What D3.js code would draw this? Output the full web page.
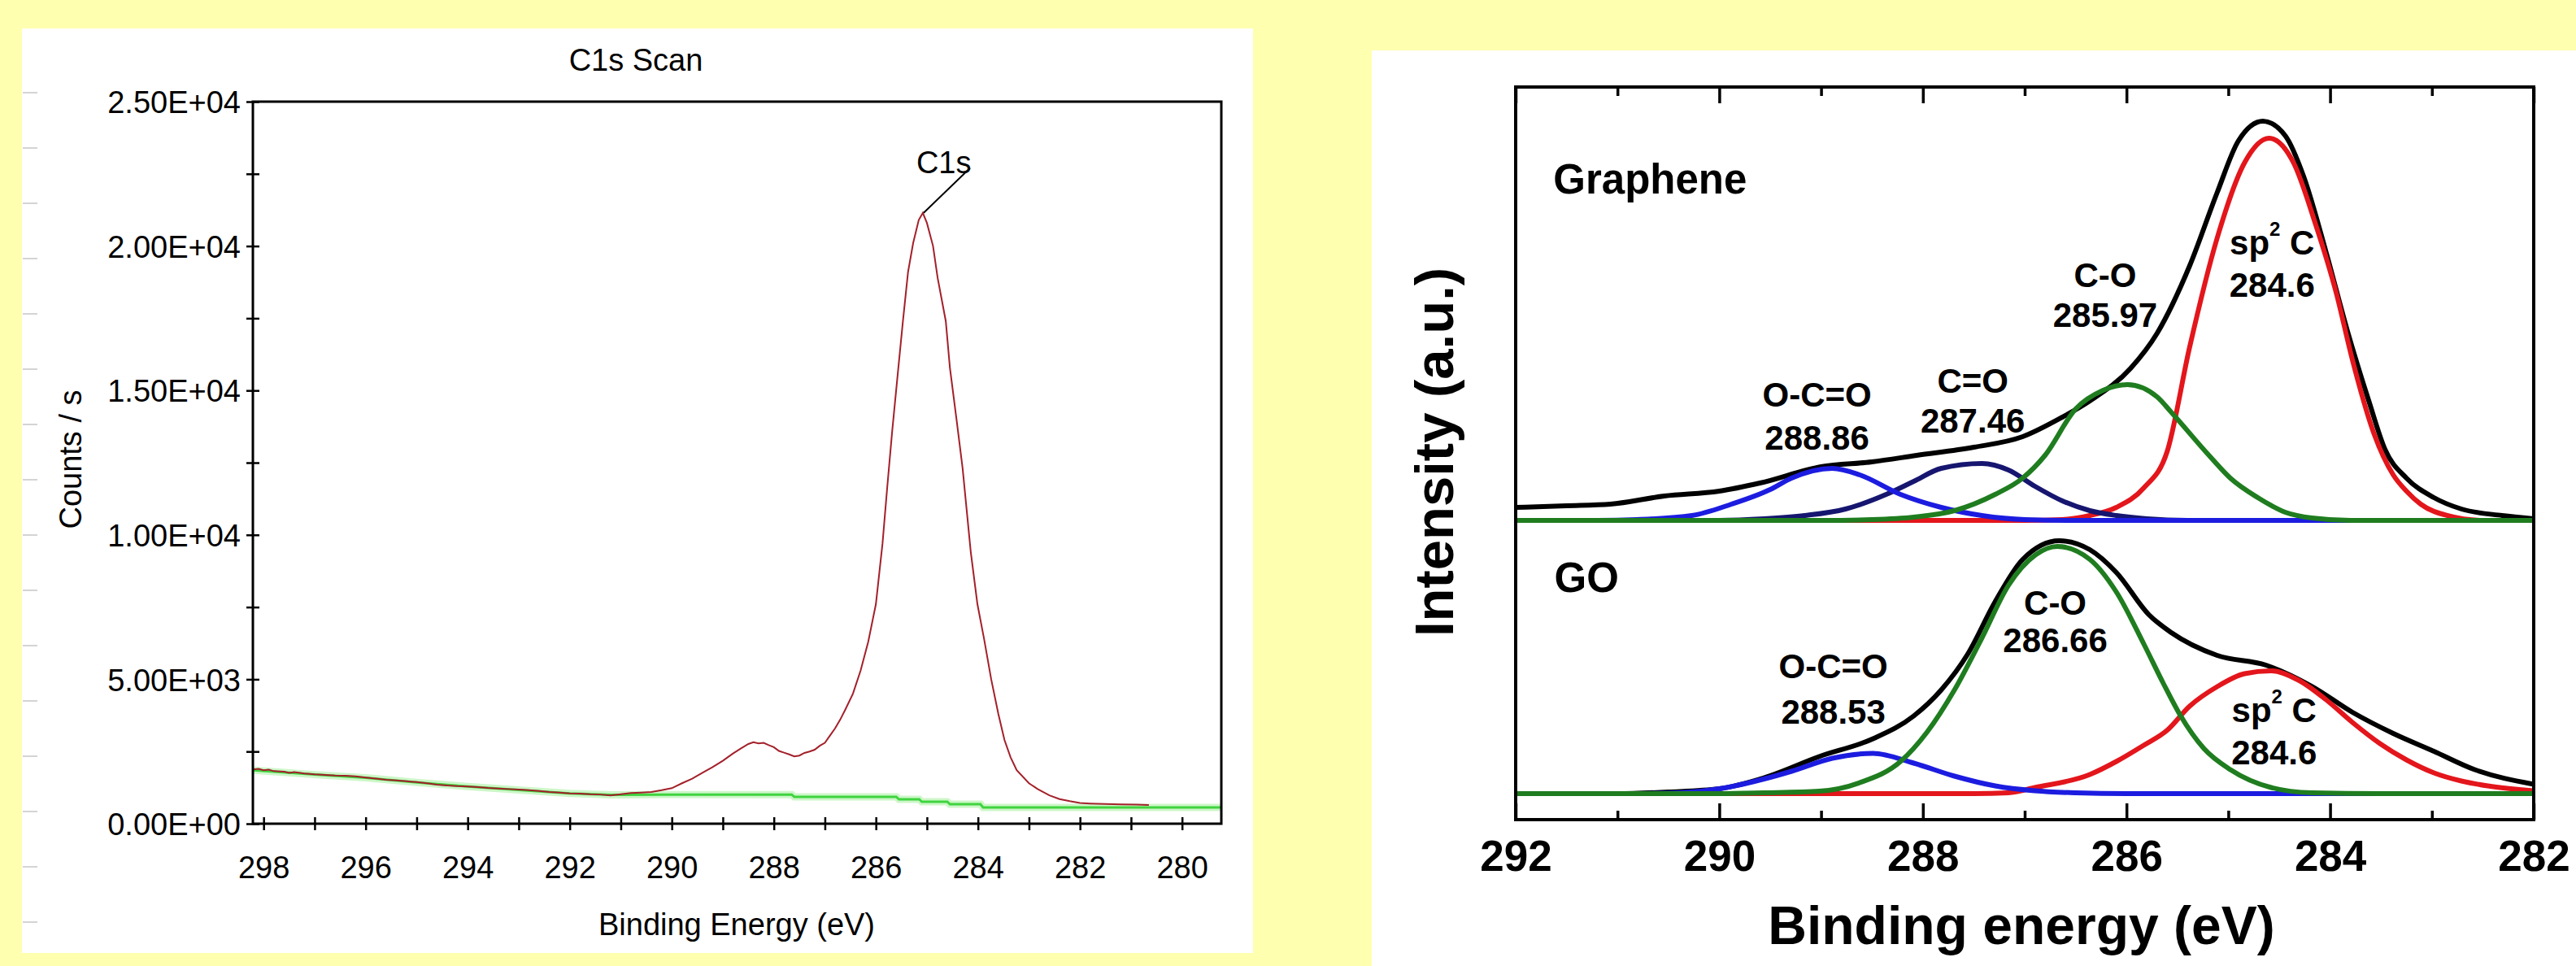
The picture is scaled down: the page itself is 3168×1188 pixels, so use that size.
<!DOCTYPE html>
<html>
<head>
<meta charset="utf-8">
<script src="https://cdn.jsdelivr.net/npm/d3@7.9.0/dist/d3.min.js"></script>
<style>
  html, body { margin: 0; padding: 0; background: #ffffb0; }
  svg { display: block; }
  text { font-family: "Liberation Sans", Arial, Helvetica, sans-serif; fill: #000; }
</style>
</head>
<body>
<svg id="chart" width="3168" height="1188"></svg>
<script>
// ---------- left panel: raw C1s scan ----------
const scanTicksY = d3.range(0, 25001, 2500);   // labelled every 5000
const scanTicksX = d3.range(280, 299, 1);      // labelled every 2 eV
const scanPeak = [285.08, 21150];

// binding energy (eV), counts / s
const scanSpectrum = [
  [298.2,1880],[298.1,1900],[298.0,1850],[297.9,1870],[297.8,1820],[297.6,1800],[297.5,1760],
  [297.4,1790],[297.2,1740],[297.0,1710],[296.8,1690],[296.6,1670],[296.4,1660],[296.2,1640],
  [296.0,1600],[295.8,1560],[295.6,1520],[295.4,1500],[295.2,1470],[295.0,1440],[294.8,1400],
  [294.6,1350],[294.4,1320],[294.2,1300],[294.0,1290],[293.8,1270],[293.6,1240],[293.4,1220],
  [293.2,1200],[293.0,1180],[292.8,1160],[292.6,1130],[292.4,1100],[292.2,1080],[292.0,1050],
  [291.8,1040],[291.6,1020],[291.4,1010],[291.2,980],[291.0,1020],[290.8,1060],[290.6,1080],
  [290.4,1100],[290.2,1160],[290.0,1230],[289.8,1400],[289.6,1560],[289.4,1760],[289.2,1960],
  [289.0,2180],[288.8,2430],[288.65,2600],[288.5,2760],[288.4,2820],[288.3,2780],[288.2,2800],
  [288.1,2720],[288.0,2650],[287.9,2520],[287.8,2460],[287.7,2400],[287.6,2330],[287.5,2360],
  [287.4,2450],[287.3,2500],[287.2,2560],[287.1,2700],[287.0,2800],[286.9,3050],[286.8,3300],
  [286.7,3600],[286.6,3950],[286.45,4500],[286.3,5300],[286.15,6300],[286.0,7600],[285.87,9700],
  [285.78,11600],[285.68,13600],[285.57,15600],[285.47,17400],[285.37,19100],[285.27,20100],
  [285.16,20900],[285.08,21150],[285.0,20800],[284.88,20000],[284.79,18900],[284.63,17400],
  [284.55,15800],[284.42,14000],[284.3,12300],[284.14,9400],[284.01,7600],[283.88,6400],
  [283.74,5000],[283.6,3800],[283.48,2900],[283.36,2300],[283.24,1850],[283.0,1400],[282.83,1200],
  [282.6,980],[282.4,850],[282.2,780],[282.0,720],[281.8,700],[281.5,680],[281.2,670],
  [280.9,660],[280.65,650]
];

const scanBackground = [
  [298.2,1850],[297.0,1700],[296.0,1590],[295.0,1430],[294.0,1290],[293.0,1170],[292.0,1050],
  [291.2,1000],[290.2,1010],[287.65,1010],[287.6,930],[285.6,930],[285.55,845],[285.15,845],
  [285.1,760],[284.6,760],[284.55,675],[283.95,675],[283.9,565],[279.23,565]
];

// ---------- right panel: fitted C1s, graphene vs GO ----------
const fitTicks = d3.range(282, 292.5, 1);   // labelled every 2 eV
const grapheneOffset = 73.6;                // a.u. shift of the upper trace
const goOffset = 6.4;

// binding energy (eV), intensity (a.u.)
const grapheneTotal = [
  [292,3.2],[291.5,3.6],[291.07,4],[290.54,6],[290.0,7.2],[289.6,9.2],[289.0,13.2],[288.5,14.4],
  [288.06,16],[287.5,18],[287.02,20.6],[286.63,25.4],[286.36,29.4],[285.96,37.4],[285.7,46],
  [285.38,62.6],[285.11,80.6],[284.9,93.4],[284.66,98.2],[284.44,94.6],[284.26,84.6],[284.04,66],
  [283.83,46.6],[283.62,29.4],[283.46,17.4],[283.25,10.4],[282.98,5.6],[282.71,2.8],[282.31,1.2],[282,0.4]
];
const grapheneSp2 = [
  [292,0],[287,0],[286.63,0.2],[286.36,1.2],[286.1,3.2],[285.83,8],[285.6,17],[285.38,42.6],
  [285.11,69.4],[284.84,88],[284.6,94],[284.36,88],[284.15,73.4],[283.94,56],[283.78,39.4],
  [283.57,21.4],[283.38,11.2],[283.25,7.2],[283.11,4],[282.85,1.2],[282.5,0],[282,0]
];
const grapheneCO = [
  [292,0],[289,0],[288.5,0.2],[288.09,0.8],[287.69,2.4],[287.29,6.4],[287.02,10.4],[286.8,16],
  [286.5,27.4],[286.23,32],[285.99,33.4],[285.7,30.4],[285.56,26.6],[285.19,16],[284.98,10.4],
  [284.71,5.6],[284.44,2],[284.18,0.6],[283.8,0],[282,0]
];
const grapheneCdO = [
  [292,0],[290,0],[289.56,0.4],[289.16,1.2],[288.76,2.8],[288.36,6.4],[288.09,9.6],[287.82,12.8],
  [287.42,14],[287.16,12.4],[286.9,8.4],[286.63,4.8],[286.36,2.4],[286.1,1.2],[285.8,0.4],[285.4,0],[282,0]
];
const grapheneOCdO = [
  [292,0],[291.2,0],[290.81,0.2],[290.27,1.2],[289.88,4],[289.5,7.6],[289.29,10.4],[288.89,12.8],
  [288.62,11.2],[288.22,6.4],[287.82,3.2],[287.42,1.2],[287,0.2],[286.5,0],[282,0]
];

const goTotal = [
  [292,0],[291,0],[290.5,0.4],[290,1.2],[289.56,3.9],[289.02,9.1],[288.49,13.5],[288.09,19.1],
  [287.82,25.5],[287.56,34.3],[287.29,47.2],[287.02,57.6],[286.66,62.2],[286.36,60],[286.1,54.4],
  [285.78,44],[285.56,39.6],[285.11,34],[284.63,31.6],[284.18,26.4],[283.78,20],[283.38,14.8],
  [282.98,10.4],[282.58,5.9],[282,2.3]
];
const goSp2 = [
  [292,0],[287.5,0],[287.16,0.2],[286.9,1.5],[286.36,4.7],[286.1,7.9],[285.83,11.9],[285.6,15.6],
  [285.38,21.5],[285.11,26.3],[284.84,29.5],[284.58,30.2],[284.31,27.9],[284.04,23.1],[283.78,17.5],
  [283.51,12.3],[283.25,8.3],[282.98,5.1],[282.71,3.1],[282.45,1.9],[282,0.7]
];
const goCO = [
  [292,0],[290,0],[289.56,0.2],[289.02,0.6],[288.62,2.7],[288.22,7.9],[287.96,15.1],[287.69,25.5],
  [287.42,38.3],[287.16,51.2],[286.89,58.8],[286.68,60.8],[286.36,57.6],[286.1,49.6],[285.83,36.8],
  [285.64,27.2],[285.47,19.2],[285.24,11.1],[284.98,5.9],[284.58,1.5],[284.18,0.2],[283.5,0],[282,0]
];
const goOCdO = [
  [292,0],[290.8,0],[290.4,0.2],[290,1.2],[289.5,4],[289.29,5.5],[288.89,8.7],[288.49,9.9],
  [288.09,7.5],[287.69,4.3],[287.29,1.9],[286.9,0.7],[286.5,0.2],[286,0],[282,0]
];

// peak labels: centre (eV), baselines of the two lines (a.u. above the trace baseline)
const grapheneLabels = [
  { name: 'O-C=O', value: '288.86', at: 289.04, h1: 28, h2: 17.4 },
  { name: 'C=O', value: '287.46', at: 287.51, h1: 31.4, h2: 21.6 },
  { name: 'C-O', value: '285.97', at: 286.21, h1: 57.4, h2: 47.6 },
  { name: 'sp2', value: '284.6', at: 284.57, h1: 65.4, h2: 55 }
];
const goLabels = [
  { name: 'O-C=O', value: '288.53', at: 288.88, h1: 28.4, h2: 17.2 },
  { name: 'C-O', value: '286.66', at: 286.70, h1: 44, h2: 34.8 },
  { name: 'sp2', value: '284.6', at: 284.55, h1: 17.6, h2: 7.2 }
];

const colors = { total: '#000000', sp2: '#e3161c', co: '#1f7d1f', cdo: '#161670', ocdo: '#1c1ce0' };

const svg = d3.select('#chart');

// ===== left panel =====
svg.append('rect').attr('x', 27).attr('y', 35).attr('width', 1514).attr('height', 1137).attr('fill', '#fff');

// faint ruler marks on the left edge of the screenshot
svg.append('g').selectAll('line').data(d3.range(114, 1140, 68)).join('line')
  .attr('x1', 28).attr('x2', 46).attr('y1', d => d).attr('y2', d => d)
  .attr('stroke', '#d4d4d4').attr('stroke-width', 2);

const xScan = d3.scaleLinear([298.21, 279.23], [311, 1502]);
const yScan = d3.scaleLinear([0, 25000], [1013, 125]);

function sci(v) {
  if (v === 0) return '0.00E+00';
  const e = Math.floor(Math.log10(v));
  return (v / 10 ** e).toFixed(2) + 'E+' + String(e).padStart(2, '0');
}

const left = svg.append('g');

const bgLine = d3.line().x(d => xScan(d[0])).y(d => yScan(d[1]));
left.append('path').attr('d', bgLine(scanBackground)).attr('fill', 'none')
  .attr('stroke', '#b8f2b0').attr('stroke-width', 9).attr('opacity', 0.7);
left.append('path').attr('d', bgLine(scanBackground)).attr('fill', 'none')
  .attr('stroke', '#3fd43f').attr('stroke-width', 3);
left.append('path').attr('d', bgLine(scanSpectrum)).attr('fill', 'none')
  .attr('stroke', '#a3202a').attr('stroke-width', 2);

// frame
left.append('rect').attr('x', 311).attr('y', 125).attr('width', 1502 - 311).attr('height', 1013 - 125)
  .attr('fill', 'none').attr('stroke', '#000').attr('stroke-width', 3);

const axL = left.append('g').attr('transform', 'translate(311,0)')
  .call(d3.axisLeft(yScan).tickValues(scanTicksY).tickSize(8)
    .tickFormat(d => d % 5000 === 0 ? sci(d) : ''));
axL.select('.domain').remove();
axL.selectAll('.tick line').attr('x1', 8).attr('stroke-width', 2.5);
axL.selectAll('.tick text').attr('x', -15).attr('font-size', 38).attr('dy', '0.36em');

const axB = left.append('g').attr('transform', `translate(0,${yScan(0)})`)
  .call(d3.axisBottom(xScan).tickValues(scanTicksX).tickSize(8)
    .tickFormat(d => d % 2 === 0 ? d : ''));
axB.select('.domain').remove();
axB.selectAll('.tick line').attr('y1', -8).attr('stroke-width', 2.5);
axB.selectAll('.tick text').attr('y', 67).attr('dy', 0).attr('font-size', 38);

left.selectAll('g').attr('font-family', null);

left.append('text').attr('x', 782).attr('y', 87).attr('text-anchor', 'middle')
  .attr('font-size', 38).text('C1s Scan');
left.append('text').attr('x', 906).attr('y', 1150).attr('text-anchor', 'middle')
  .attr('font-size', 38).text('Binding Energy (eV)');
left.append('text').attr('transform', 'translate(100,565) rotate(-90)').attr('text-anchor', 'middle')
  .attr('font-size', 38).text('Counts / s');

// peak annotation
const px = xScan(scanPeak[0]), py = yScan(scanPeak[1]);
left.append('line').attr('x1', px + 1).attr('y1', py).attr('x2', px + 58).attr('y2', py - 55)
  .attr('stroke', '#000').attr('stroke-width', 2);
left.append('text').attr('x', px - 8).attr('y', py - 49).attr('font-size', 38).text('C1s');

// ===== right panel =====
svg.append('rect').attr('x', 1687).attr('y', 62).attr('width', 3168 - 1687).attr('height', 1188 - 62).attr('fill', '#fff');

const xFit = d3.scaleLinear([292, 282], [1864, 3116]);
const yFit = d3.scaleLinear([0, 180.2], [1008, 107]);

const right = svg.append('g');
right.append('clipPath').attr('id', 'fitclip').append('rect')
  .attr('x', 1864).attr('y', 107).attr('width', 3116 - 1864).attr('height', 1008 - 107);

const curves = right.append('g').attr('clip-path', 'url(#fitclip)');
function trace(data, offset, color) {
  const line = d3.line().curve(d3.curveMonotoneX)
    .x(d => xFit(d[0])).y(d => yFit(d[1] + offset));
  curves.append('path').attr('d', line(data)).attr('fill', 'none')
    .attr('stroke', color).attr('stroke-width', 6).attr('stroke-linejoin', 'round');
}
[[grapheneTotal, colors.total], [grapheneSp2, colors.sp2], [grapheneCdO, colors.cdo],
 [grapheneOCdO, colors.ocdo], [grapheneCO, colors.co]].forEach(([d, c]) => trace(d, grapheneOffset, c));
[[goTotal, colors.total], [goSp2, colors.sp2], [goOCdO, colors.ocdo], [goCO, colors.co]]
  .forEach(([d, c]) => trace(d, goOffset, c));

// frame + inward ticks
right.append('rect').attr('x', 1864).attr('y', 107).attr('width', 3116 - 1864).attr('height', 1008 - 107)
  .attr('fill', 'none').attr('stroke', '#000').attr('stroke-width', 4);

const axRB = right.append('g').attr('transform', 'translate(0,1008)')
  .call(d3.axisBottom(xFit).tickValues(fitTicks).tickSize(0).tickFormat(d => d % 2 === 0 ? d : ''));
axRB.select('.domain').remove();
axRB.selectAll('.tick line').attr('y2', d => d % 2 === 0 ? -20 : -11).attr('stroke-width', 3.5);
axRB.selectAll('.tick text').attr('y', 63).attr('dy', 0).attr('font-size', 53).attr('font-weight', 'bold');

const axRT = right.append('g').attr('transform', 'translate(0,107)')
  .call(d3.axisTop(xFit).tickValues(fitTicks).tickSize(0).tickFormat(''));
axRT.select('.domain').remove();
axRT.selectAll('.tick line').attr('y2', d => d % 2 === 0 ? 20 : 11).attr('stroke-width', 3.5);

right.selectAll('g').attr('font-family', null);

right.append('text').attr('x', 2486).attr('y', 1161).attr('text-anchor', 'middle')
  .attr('font-size', 66).attr('font-weight', 'bold').text('Binding energy (eV)');
right.append('text').attr('transform', 'translate(1787,556) rotate(-90)').attr('text-anchor', 'middle')
  .attr('font-size', 67).attr('font-weight', 'bold').text('Intensity (a.u.)');

right.append('text').attr('x', xFit(291.63)).attr('y', yFit(grapheneOffset + 80.4))
  .attr('font-size', 51).attr('font-weight', 'bold').text('Graphene');
right.append('text').attr('x', xFit(291.62)).attr('y', yFit(goOffset + 49.6))
  .attr('font-size', 51).attr('font-weight', 'bold').text('GO');

function peakLabels(list, offset) {
  list.forEach(l => {
    const t = right.append('text').attr('x', xFit(l.at)).attr('y', yFit(offset + l.h1))
      .attr('text-anchor', 'middle').attr('font-size', 42).attr('font-weight', 'bold');
    if (l.name === 'sp2') {
      t.append('tspan').text('sp');
      t.append('tspan').attr('dy', -23).attr('font-size', 24).text('2');
      t.append('tspan').attr('dy', 23).text('\u00a0C');
    } else {
      t.text(l.name);
    }
    right.append('text').attr('x', xFit(l.at)).attr('y', yFit(offset + l.h2))
      .attr('text-anchor', 'middle').attr('font-size', 42).attr('font-weight', 'bold').text(l.value);
  });
}
peakLabels(grapheneLabels, grapheneOffset);
peakLabels(goLabels, goOffset);
</script>
</body>
</html>
